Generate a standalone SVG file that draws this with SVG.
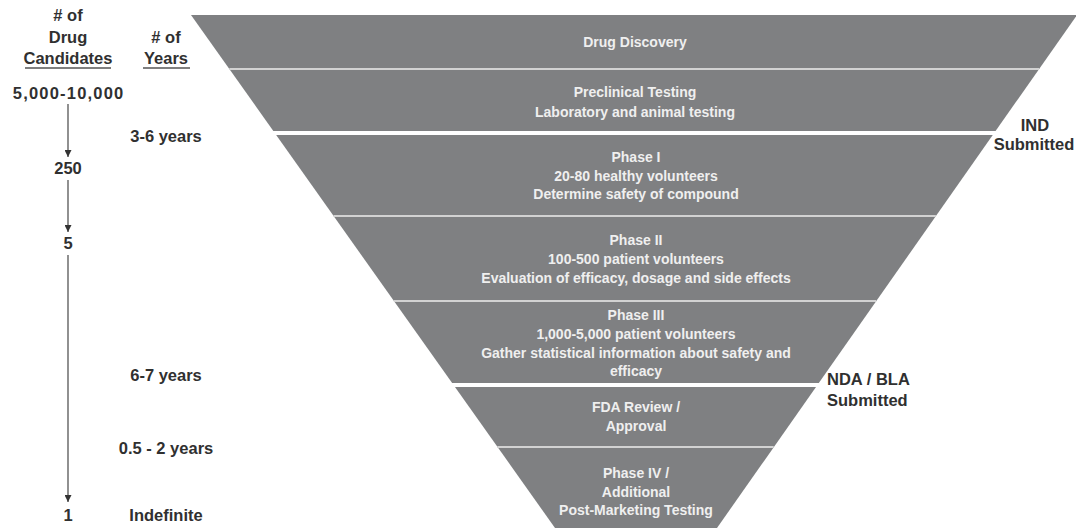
<svg xmlns="http://www.w3.org/2000/svg" width="1076" height="528" viewBox="0 0 1076 528">
<style>
.band{font-family:"Liberation Sans",Arial,sans-serif;font-size:14px;font-weight:bold;fill:#efefef;text-anchor:middle}
.lbl{font-family:"Liberation Sans",Arial,sans-serif;font-size:16.5px;font-weight:bold;fill:#303030}
.mid{text-anchor:middle}
.thin{stroke:#d2d2d2;stroke-width:2}
.thick{stroke:#ffffff;stroke-width:4}
.ax{stroke:#555;stroke-width:1.3;fill:none}
.ul{stroke:#555;stroke-width:1.3}
</style>
<defs>
<marker id="ah" viewBox="0 0 10 10" refX="10" refY="5" markerWidth="7" markerHeight="7" markerUnits="userSpaceOnUse" orient="auto">
<path d="M0,0 L10,5 L0,10 z" fill="#333"/>
</marker>
</defs>
<rect width="1076" height="528" fill="#ffffff"/>
<g id="funnel">
<polygon points="191,15 1077,15 717,528 555,528" fill="#7f8082"/>
<line class="thin" x1="229.3" y1="69" x2="1039.1" y2="69"/>
<line class="thick" x1="272" y1="133" x2="997" y2="133"/>
<line class="thin" x1="333.5" y1="216" x2="935.9" y2="216"/>
<line class="thin" x1="393.8" y1="301" x2="876.2" y2="301"/>
<line class="thick" x1="450" y1="385" x2="820" y2="385"/>
<line class="thin" x1="497.3" y1="447" x2="773.7" y2="447"/>
</g>
<g id="drug-discovery"><text class="band" x="635" y="47">Drug Discovery</text></g>
<g id="preclinical"><text class="band" x="635" y="97">Preclinical Testing</text><text class="band" x="635" y="117">Laboratory and animal testing</text></g>
<g id="phase1"><text class="band" x="636" y="162">Phase I</text><text class="band" x="636" y="181">20-80 healthy volunteers</text><text class="band" x="636" y="199">Determine safety of compound</text></g>
<g id="phase2"><text class="band" x="636" y="245">Phase II</text><text class="band" x="636" y="264">100-500 patient volunteers</text><text class="band" x="636" y="283">Evaluation of efficacy, dosage and side effects</text></g>
<g id="phase3"><text class="band" x="636" y="320">Phase III</text><text class="band" x="636" y="339">1,000-5,000 patient volunteers</text><text class="band" x="636" y="358">Gather statistical information about safety and</text><text class="band" x="636" y="376">efficacy</text></g>
<g id="fda"><text class="band" x="636" y="412">FDA Review /</text><text class="band" x="636" y="431">Approval</text></g>
<g id="phase4"><text class="band" x="636" y="478">Phase IV /</text><text class="band" x="636" y="497">Additional</text><text class="band" x="636" y="515">Post-Marketing Testing</text></g>
<g id="ind"><text class="lbl mid" x="1035" y="131">IND</text><text class="lbl mid" x="1034" y="150">Submitted</text></g>
<g id="nda"><text class="lbl" x="827" y="385">NDA / BLA</text><text class="lbl" x="827" y="406">Submitted</text></g>
<g id="header-candidates"><text class="lbl mid" x="68" y="21"># of</text><text class="lbl mid" x="68" y="43">Drug</text><text class="lbl mid" x="68" y="64">Candidates</text><line class="ul" x1="25" y1="68" x2="111" y2="68"/></g>
<g id="header-years"><text class="lbl mid" x="166" y="43"># of</text><text class="lbl mid" x="166" y="64">Years</text><line class="ul" x1="143" y1="68" x2="190" y2="68"/></g>
<g id="c1"><text class="lbl mid" x="68.6" y="99" letter-spacing="1.2">5,000-10,000</text></g>
<g id="c2"><text class="lbl mid" x="68" y="174">250</text></g>
<g id="c3"><text class="lbl mid" x="68" y="249">5</text></g>
<g id="c4"><text class="lbl mid" x="68" y="521">1</text></g>
<g id="y1"><text class="lbl mid" x="166" y="142">3-6 years</text></g>
<g id="y2"><text class="lbl mid" x="166" y="381">6-7 years</text></g>
<g id="y3"><text class="lbl mid" x="166" y="454">0.5 - 2 years</text></g>
<g id="y4"><text class="lbl mid" x="166" y="521">Indefinite</text></g>
<g id="connectors">
<line class="ax" x1="68" y1="104" x2="68" y2="157" marker-end="url(#ah)"/>
<line class="ax" x1="68" y1="180" x2="68" y2="232" marker-end="url(#ah)"/>
<line class="ax" x1="68" y1="255" x2="68" y2="502" marker-end="url(#ah)"/>
</g>
</svg>
